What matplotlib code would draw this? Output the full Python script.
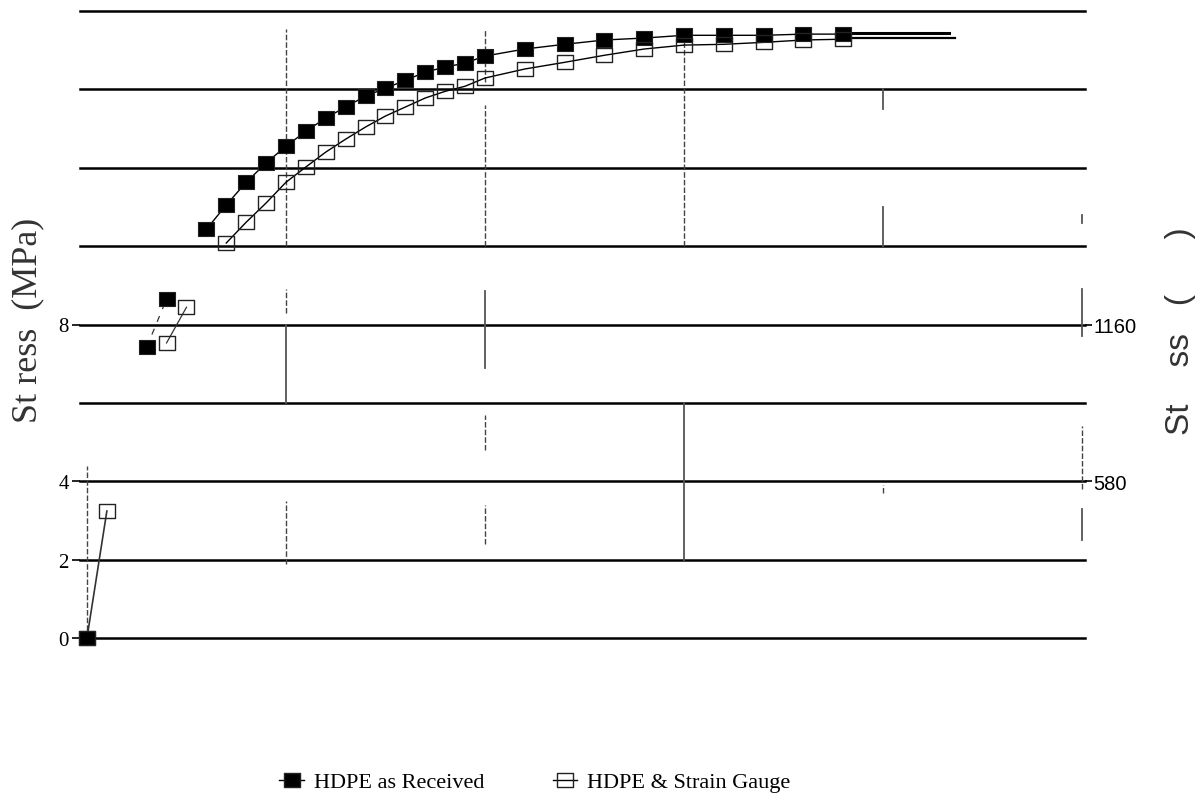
import matplotlib
matplotlib.use("Agg")
import matplotlib.pyplot as plt
from matplotlib.path import Path
from matplotlib.lines import Line2D
import numpy as np

# ---- data ----
received_x = [0.0, 0.3, 0.4, 0.6, 0.7, 0.8, 0.9, 1.0, 1.1, 1.2, 1.3, 1.4, 1.5, 1.6, 1.7,
              1.8, 1.9, 2.0, 2.2, 2.4, 2.6, 2.8, 3.0, 3.2, 3.4, 3.6, 3.8]
received_y = [0.0, 7.42, 8.65, 10.43, 11.05, 11.63, 12.12, 12.55, 12.93, 13.27, 13.55, 13.83,
              14.03, 14.23, 14.44, 14.57, 14.67, 14.85, 15.03, 15.15, 15.26, 15.31, 15.38,
              15.38, 15.38, 15.41, 15.41]

gauge_x = [0.0, 0.1, 0.4, 0.5, 0.7, 0.8, 0.9, 1.0, 1.1, 1.2, 1.3, 1.4, 1.5, 1.6, 1.7,
           1.8, 1.9, 2.0, 2.2, 2.4, 2.6, 2.8, 3.0, 3.2, 3.4, 3.6, 3.8]
gauge_y = [0.0, 3.24, 7.53, 8.44, 10.08, 10.61, 11.10, 11.63, 12.02, 12.40, 12.73, 13.04,
           13.32, 13.55, 13.78, 13.95, 14.08, 14.29, 14.52, 14.69, 14.87, 15.03, 15.13,
           15.15, 15.20, 15.26, 15.28]

# line-only tails at the right of the curves
received_tail_x = [3.81, 4.33]
received_tail_y = [15.43, 15.43]
gauge_tail_x = [3.81, 4.36]
gauge_tail_y = [15.31, 15.31]

left_ticks = [0, 2, 4, 8]
left_ticklabels = ["0", "2", "4", "8"]
grid_levels = [0, 2, 4, 6, 8, 10, 12, 14, 16]
right_ticks = [580, 1160]
right_ticklabels = ["580", "1160"]
psi_per_mpa = 145.0

legend_labels = ["HDPE as Received", "HDPE & Strain Gauge"]

# ---- figure ----
W, H = 1198, 803
fig = plt.figure(figsize=(W / 100, H / 100), dpi=100)
ax_left_px, ax_right_px, ax_top_px, ax_bot_px = 80, 1085, 12, 639
ax = fig.add_axes([ax_left_px / W, 1 - ax_bot_px / H,
                   (ax_right_px - ax_left_px) / W, (ax_bot_px - ax_top_px) / H])
ax.set_xlim(-0.035, 5.015)
ax.set_ylim(0, 16)
for s in ax.spines.values():
    s.set_visible(False)
ax.set_xticks([])

# horizontal grid lines
for g in grid_levels:
    ax.axhline(g, color="black", lw=1.8, zorder=1, clip_on=False)

# fragmentary vertical grid lines of the scan
frag_solid = [(1.0, 6.0, 8.0), (2.0, 6.9, 8.85), (3.0, 2.0, 6.0), (4.0, 13.5, 14.0),
              (4.0, 10.0, 11.0), (5.0, 7.7, 8.9), (5.0, 2.5, 3.3), (5.0, 10.6, 10.8)]
frag_dotted = [(1.0, 10.0, 15.55), (2.0, 10.0, 13.6), (2.0, 14.2, 15.55), (3.0, 10.0, 15.55),
               (1.0, 8.3, 8.9), (1.0, 1.9, 3.5), (2.0, 4.8, 5.7), (2.0, 2.4, 3.4),
               (5.0, 3.8, 5.4), (0.0, 0.0, 4.4), (4.0, 3.7, 3.9)]
for xv, y0, y1 in frag_solid:
    ax.plot([xv, xv], [y0, y1], color="#555555", lw=1.3, zorder=1)
for xv, y0, y1 in frag_dotted:
    ax.plot([xv, xv], [y0, y1], color="#444444", lw=1.0, ls=(0, (4, 1.5)), zorder=1)

# rectangular marker (wider than tall)
rect = Path([(-1, -0.78), (1, -0.78), (1, 0.78), (-1, 0.78), (-1, -0.78)],
            [Path.MOVETO, Path.LINETO, Path.LINETO, Path.LINETO, Path.CLOSEPOLY])

rx, ry = np.array(received_x), np.array(received_y)
gx, gy = np.array(gauge_x), np.array(gauge_y)

# connecting lines (the scan only shows some of the joins)
ax.plot(rx[3:], ry[3:], color="black", lw=1.0, zorder=2)
ax.plot(rx[1:3], ry[1:3], color="#333333", lw=0.9, ls=(0, (5, 6)), zorder=2)
ax.plot(gx[4:], gy[4:], color="black", lw=1.0, zorder=2)
ax.plot(gx[2:4], gy[2:4], color="#333333", lw=0.9, zorder=2)
ax.plot(gx[0:2], gy[0:2], color="#333333", lw=1.2, zorder=2)

# markers
ax.plot(rx, ry, ls="none", marker=rect, ms=12, mfc="black", mec="#222222", mew=0.8,
        zorder=3, clip_on=False, label=legend_labels[0])
ax.plot(gx, gy, ls="none", marker=rect, ms=12, mfc="none", mec="#222222", mew=1.0,
        zorder=3, clip_on=False, label=legend_labels[1])
ax.plot(received_tail_x, received_tail_y, color="black", lw=2.2, zorder=2)
ax.plot(gauge_tail_x, gauge_tail_y, color="black", lw=1.6, zorder=2)

# left ticks
ax.set_yticks(left_ticks)
ax.set_yticklabels(left_ticklabels, fontfamily="Liberation Serif", fontsize=15)
ax.tick_params(axis="y", length=6, width=1.2, pad=2, left=True, right=False)

# right axis
ax2 = ax.twinx()
for s in ax2.spines.values():
    s.set_visible(False)
ax2.set_ylim(0, 16 * psi_per_mpa)
ax2.set_yticks(right_ticks)
ax2.set_yticklabels(right_ticklabels, fontfamily="Liberation Sans", fontsize=14.5)
ax2.tick_params(axis="y", length=5, width=1.2, pad=1, right=True)
ax2.set_xticks([])

# axis titles
fig.text(28 / W, 1 - 320 / H, "St ress  (MPa)", rotation=90, ha="center", va="center",
         fontfamily="Liberation Serif", fontsize=26, color="#333333")
fig.text(1180 / W, 1 - 331 / H, "St    ss   (      )", rotation=90, ha="center", va="center",
         fontfamily="Liberation Sans", fontsize=24, color="#333333")

# legend: markers with a short line through them
h1 = Line2D([], [], color="black", lw=1.0, marker=rect, ms=12, mfc="black", mec="#222222")
h2 = Line2D([], [], color="black", lw=1.0, marker=rect, ms=12, mfc="none", mec="#222222")
leg = fig.legend([h1, h2], legend_labels, loc="center",
                 bbox_to_anchor=(535 / W, 1 - 783 / H), ncol=2,
                 frameon=False, handlelength=1.1, columnspacing=3.1, handletextpad=0.45,
                 prop={"family": "Liberation Serif", "size": 16})

fig.savefig("out.png", dpi=100)
